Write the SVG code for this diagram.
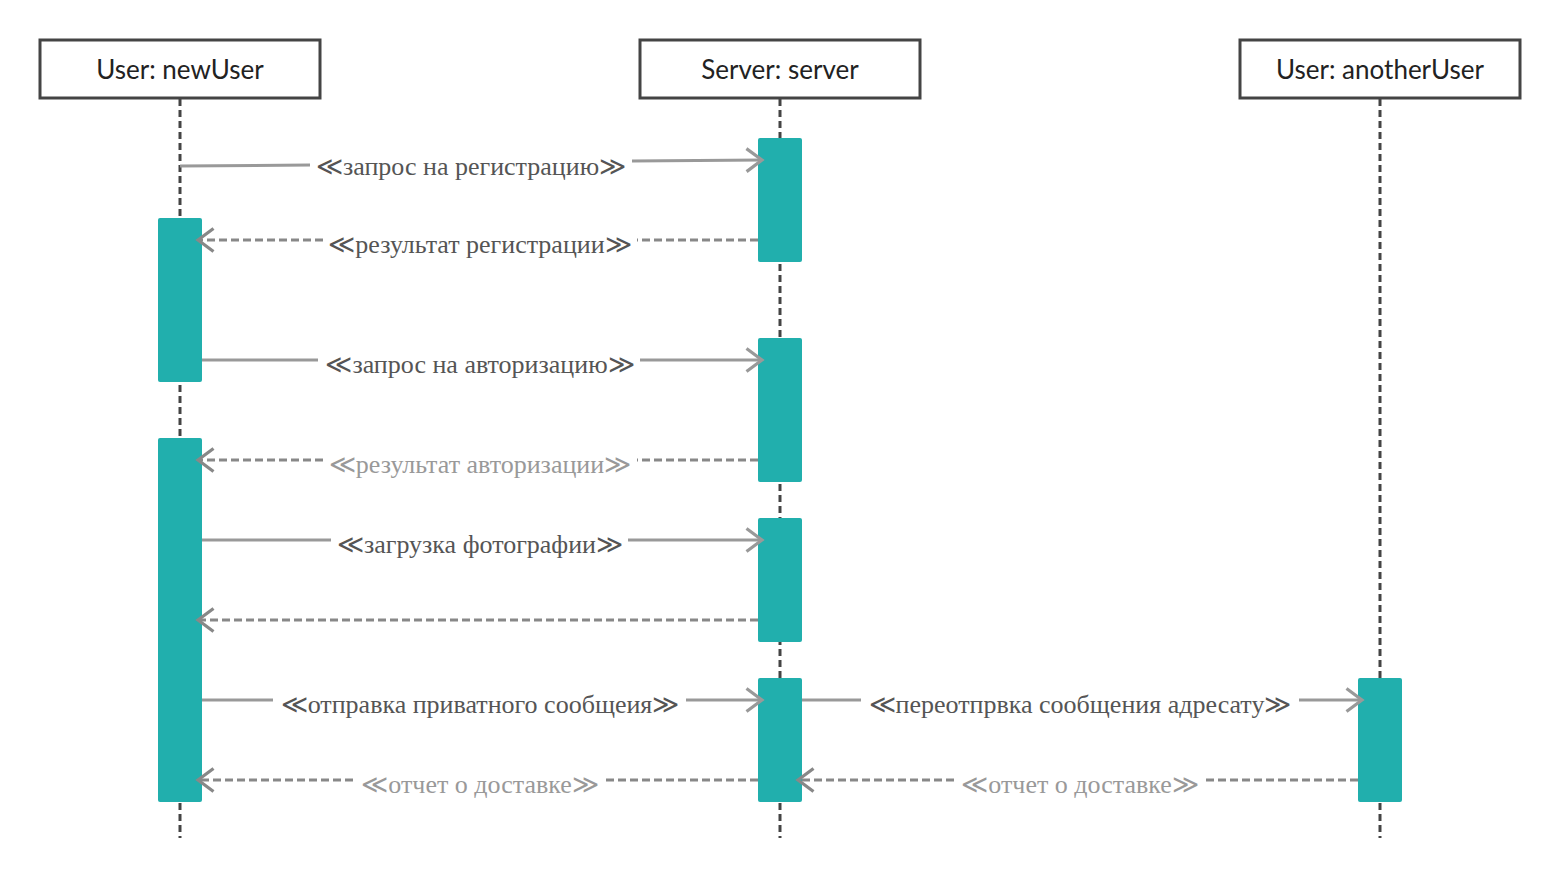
<svg xmlns="http://www.w3.org/2000/svg" width="1560" height="880" viewBox="0 0 1560 880">
<style>
.box{fill:#fff;stroke:#444;stroke-width:3}
.ttl{font-family:Lato,"Open Sans","Liberation Sans",sans-serif;font-size:26px;fill:#222;text-anchor:middle}
.life{stroke:#444;stroke-width:3;stroke-dasharray:7 4;fill:none}
.act{fill:#21AFAD}
.msg{stroke:#999;stroke-width:3;fill:none}
.ret{stroke:#888;stroke-width:3;fill:none;stroke-dasharray:8 4}
.lbl{font-family:"Liberation Serif","DejaVu Serif",serif;font-size:26px;fill:#555;text-anchor:middle}
.lt{fill:#999}
</style>
<defs>
<marker id="ah" markerUnits="userSpaceOnUse" markerWidth="22" markerHeight="28" refX="17" refY="13" orient="auto">
<path d="M1.5,1.5 L17,13 L1.5,24.5" fill="none" stroke="#999" stroke-width="3.2"/>
</marker>
<marker id="ahr" markerUnits="userSpaceOnUse" markerWidth="22" markerHeight="28" refX="17" refY="13" orient="auto">
<path d="M1.5,1.5 L17,13 L1.5,24.5" fill="none" stroke="#888" stroke-width="3.2"/>
</marker>
</defs>
<rect width="1560" height="880" fill="#fff"/>
<g id="lifelines">
<line class="life" x1="180" y1="99" x2="180" y2="838"/>
<line class="life" x1="780" y1="99" x2="780" y2="838"/>
<line class="life" x1="1380" y1="99" x2="1380" y2="838"/>
</g>
<g id="newUser">
<rect class="box" x="40" y="40" width="280" height="58"/>
<text class="ttl" x="180" y="79">User: newUser</text>
<rect class="act" x="158" y="218" width="44" height="164" rx="2"/>
<rect class="act" x="158" y="438" width="44" height="364" rx="2"/>
</g>
<g id="server">
<rect class="box" x="640" y="40" width="280" height="58"/>
<text class="ttl" x="780" y="79">Server: server</text>
<rect class="act" x="758" y="138" width="44" height="124" rx="2"/>
<rect class="act" x="758" y="338" width="44" height="144" rx="2"/>
<rect class="act" x="758" y="518" width="44" height="124" rx="2"/>
<rect class="act" x="758" y="678" width="44" height="124" rx="2"/>
</g>
<g id="anotherUser">
<rect class="box" x="1240" y="40" width="280" height="58"/>
<text class="ttl" x="1380" y="79">User: anotherUser</text>
<rect class="act" x="1358" y="678" width="44" height="124" rx="2"/>
</g>
<g id="connectors">
<line class="msg" x1="180" y1="166" x2="310" y2="165"/>
<line class="msg" x1="632" y1="161" x2="762" y2="160" marker-end="url(#ah)"/>
<line class="ret" x1="758" y1="240" x2="637" y2="240"/>
<line class="ret" x1="323" y1="240" x2="198" y2="240" marker-end="url(#ahr)"/>
<line class="msg" x1="202" y1="360" x2="318" y2="360"/>
<line class="msg" x1="640" y1="360" x2="762" y2="360" marker-end="url(#ah)"/>
<line class="ret" x1="758" y1="460" x2="637" y2="460"/>
<line class="ret" x1="323" y1="460" x2="198" y2="460" marker-end="url(#ahr)"/>
<line class="msg" x1="202" y1="540" x2="331" y2="540"/>
<line class="msg" x1="628" y1="540" x2="762" y2="540" marker-end="url(#ah)"/>
<line class="ret" x1="758" y1="620" x2="198" y2="620" marker-end="url(#ahr)"/>
<line class="msg" x1="202" y1="700" x2="273" y2="700"/>
<line class="msg" x1="686" y1="700" x2="762" y2="700" marker-end="url(#ah)"/>
<line class="msg" x1="802" y1="700" x2="861" y2="700"/>
<line class="msg" x1="1299" y1="700" x2="1362" y2="700" marker-end="url(#ah)"/>
<line class="ret" x1="758" y1="780" x2="605" y2="780"/>
<line class="ret" x1="353" y1="780" x2="198" y2="780" marker-end="url(#ahr)"/>
<line class="ret" x1="1358" y1="780" x2="1205" y2="780"/>
<line class="ret" x1="954" y1="780" x2="798" y2="780" marker-end="url(#ahr)"/>
</g>
<g id="labels">
<text class="lbl" x="471" y="175">≪запрос на регистрацию≫</text>
<text class="lbl" x="480" y="253">≪результат регистрации≫</text>
<text class="lbl" x="480" y="373">≪запрос на авторизацию≫</text>
<text class="lbl lt" x="480" y="473">≪результат авторизации≫</text>
<text class="lbl" x="480" y="553">≪загрузка фотографии≫</text>
<text class="lbl" x="480" y="713">≪отправка приватного сообщеия≫</text>
<text class="lbl" x="1080" y="713">≪переотпрвка сообщения адресату≫</text>
<text class="lbl lt" x="480" y="793">≪отчет о доставке≫</text>
<text class="lbl lt" x="1080" y="793">≪отчет о доставке≫</text>
</g>
</svg>
